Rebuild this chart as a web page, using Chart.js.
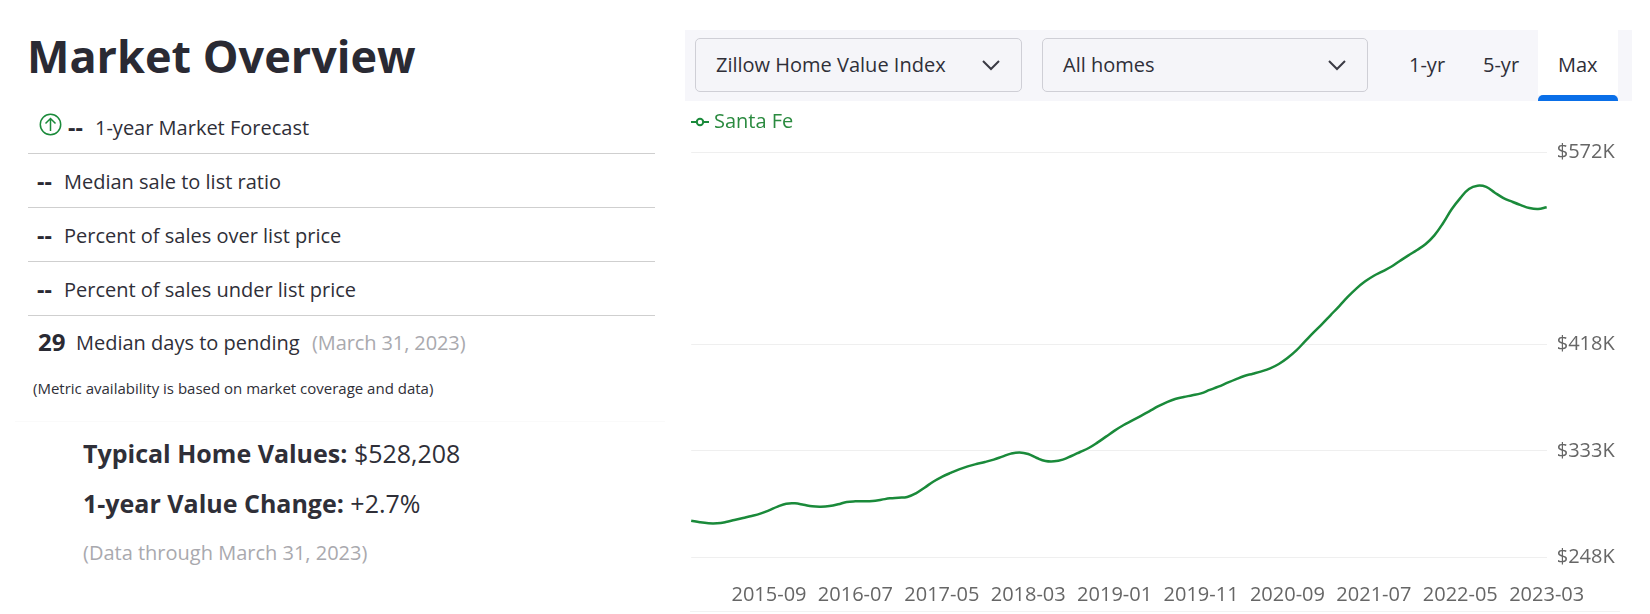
<!DOCTYPE html>
<html>
<head>
<meta charset="utf-8">
<title>Market Overview</title>
<script src="https://cdn.jsdelivr.net/npm/chart.js@4"></script>
<style>
  html, body { margin: 0; background: #fff; }
  body { width: 1650px; height: 614px; overflow: hidden; position: relative; font-family: "Open Sans", sans-serif; color: #2f2f38; }
  .abs { position: absolute; white-space: nowrap; line-height: 1; }
  .rule { position: absolute; left: 28px; width: 627px; height: 1px; background: #cfcfcf; }
  .dash { font-weight: 700; color: #2a2a33; }
  .grey { color: #a9a9ae; }
  #toolbar { position: absolute; left: 685px; top: 30px; width: 947px; height: 71px; background: #f6f6fa; }
  .select { position: absolute; top: 38px; height: 54px; box-sizing: border-box; background: #f5f5f9; border: 1px solid #cfcfd6; border-radius: 5px; }
  #maxTab { position: absolute; left: 1538px; top: 30px; width: 80px; height: 65px; background: #fff; }
  #maxBar { position: absolute; left: 1538px; top: 95px; width: 80px; height: 6px; background: #0a6fe8; border-radius: 5px 5px 0 0; }
  #chartBox { position: absolute; left: 680px; top: 100px; width: 950px; height: 514px; }
</style>
</head>
<body>
<div class="abs" style="left:27px;top:31px;font-size:45px;font-weight:700;line-height:50px;color:#2a2a33">Market Overview</div>

<svg class="abs" style="left:39px;top:113px" width="23" height="23" viewBox="0 0 23 23" fill="none" stroke="#1a8a3a" stroke-width="1.5">
  <circle cx="11.5" cy="11.5" r="10.2"/><path d="M11.5 18V5.5M6.5 10.5l5-5 5 5"/>
</svg>
<div class="abs dash" style="left:68px;top:116px;font-size:23px">--</div>
<div class="abs" style="left:95px;top:118px;font-size:20px">1-year Market Forecast</div>
<div class="rule" style="top:153px"></div>

<div class="abs dash" style="left:37px;top:170px;font-size:23px">--</div>
<div class="abs" style="left:64px;top:172px;font-size:20px">Median sale to list ratio</div>
<div class="rule" style="top:207px"></div>

<div class="abs dash" style="left:37px;top:224px;font-size:23px">--</div>
<div class="abs" style="left:64px;top:226px;font-size:20px">Percent of sales over list price</div>
<div class="rule" style="top:261px"></div>

<div class="abs dash" style="left:37px;top:278px;font-size:23px">--</div>
<div class="abs" style="left:64px;top:280px;font-size:20px">Percent of sales under list price</div>
<div class="rule" style="top:315px"></div>

<div class="abs dash" style="left:38px;top:330px;font-size:24px">29</div>
<div class="abs" style="left:76px;top:333px;font-size:20px">Median days to pending</div>
<div class="abs grey" style="left:312px;top:333px;font-size:20px;letter-spacing:-0.1px">(March 31, 2023)</div>
<div class="abs" style="left:33px;top:381px;font-size:15px">(Metric availability is based on market coverage and data)</div>
<div style="position:absolute;left:15px;top:421px;width:650px;height:1px;background:#fafafa"></div>

<div class="abs" style="left:83px;top:441px;font-size:25px"><b>Typical Home Values:</b> $528,208</div>
<div class="abs" style="left:83px;top:491px;font-size:25px"><b>1-year Value Change:</b> +2.7%</div>
<div class="abs grey" style="left:83px;top:543px;font-size:20px">(Data through March 31, 2023)</div>

<div id="toolbar"></div>
<div class="select" style="left:695px;width:327px"></div>
<div class="select" style="left:1042px;width:326px"></div>
<div class="abs" style="left:716px;top:55px;font-size:20px">Zillow Home Value Index</div>
<div class="abs" style="left:1063px;top:55px;font-size:20px">All homes</div>
<svg class="abs" style="left:981px;top:59px" width="20" height="12" fill="none" stroke="#3a3a44" stroke-width="2"><path d="M2 2l8 8 8-8"/></svg>
<svg class="abs" style="left:1327px;top:59px" width="20" height="12" fill="none" stroke="#3a3a44" stroke-width="2"><path d="M2 2l8 8 8-8"/></svg>
<div id="maxTab"></div>
<div id="maxBar"></div>
<div class="abs" style="left:1409px;top:55px;font-size:20px">1-yr</div>
<div class="abs" style="left:1483px;top:55px;font-size:20px">5-yr</div>
<div class="abs" style="left:1558px;top:55px;font-size:20px">Max</div>

<div id="chartBox"><canvas id="homeValues" width="950" height="514"></canvas></div>
<svg class="abs" style="left:691px;top:116px" width="18" height="12" fill="none" stroke="#1a8a3a" stroke-width="2">
  <path d="M0 6h5M13 6h5"/><circle cx="9" cy="6" r="3.2"/>
</svg>
<div class="abs" id="legendText" style="left:714px;top:111px;font-size:20px;color:#2a8a3f"></div>

<div style="position:absolute;left:690px;top:611px;width:930px;height:1px;background:#f2f2f2"></div>

<script>
const seriesName = "Santa Fe";
const lineColor = "#1a8a3a";

const months = [
  "2014-12",
  "2015-01", "2015-02", "2015-03", "2015-04", "2015-05", "2015-06", "2015-07", "2015-08", "2015-09", "2015-10", "2015-11", "2015-12",
  "2016-01", "2016-02", "2016-03", "2016-04", "2016-05", "2016-06", "2016-07", "2016-08", "2016-09", "2016-10", "2016-11", "2016-12",
  "2017-01", "2017-02", "2017-03", "2017-04", "2017-05", "2017-06", "2017-07", "2017-08", "2017-09", "2017-10", "2017-11", "2017-12",
  "2018-01", "2018-02", "2018-03", "2018-04", "2018-05", "2018-06", "2018-07", "2018-08", "2018-09", "2018-10", "2018-11", "2018-12",
  "2019-01", "2019-02", "2019-03", "2019-04", "2019-05", "2019-06", "2019-07", "2019-08", "2019-09", "2019-10", "2019-11", "2019-12",
  "2020-01", "2020-02", "2020-03", "2020-04", "2020-05", "2020-06", "2020-07", "2020-08", "2020-09", "2020-10", "2020-11", "2020-12",
  "2021-01", "2021-02", "2021-03", "2021-04", "2021-05", "2021-06", "2021-07", "2021-08", "2021-09", "2021-10", "2021-11", "2021-12",
  "2022-01", "2022-02", "2022-03", "2022-04", "2022-05", "2022-06", "2022-07", "2022-08", "2022-09", "2022-10", "2022-11", "2022-12",
  "2023-01", "2023-02", "2023-03"
];

// thousands of dollars
const homeValues = [
  277.1,
  275.8, 275.0, 275.0, 276.0, 277.6, 279.2, 280.8, 282.7, 285.4, 288.3, 290.7, 291.0,
  289.9, 288.6, 288.3, 288.8, 290.2, 292.1, 292.6, 292.6, 292.9, 293.9, 295.0, 295.5,
  296.1, 299.0, 303.5, 308.3, 312.1, 315.3, 318.2, 320.6, 322.5, 324.1, 326.0, 328.4,
  330.8, 331.8, 330.5, 327.3, 324.9, 324.6, 326.0, 328.9, 332.1, 335.3, 339.6, 344.4,
  349.2, 353.5, 357.2, 360.9, 364.7, 368.6, 371.9, 374.6, 376.2, 377.5, 379.1, 381.8,
  384.4, 387.4, 390.3, 393.0, 394.8, 396.7, 399.1, 402.6, 407.4, 413.3, 420.5, 427.7,
  434.6, 441.8, 449.0, 456.5, 463.2, 468.8, 473.3, 476.8, 480.5, 485.1, 489.6, 493.9,
  498.7, 505.6, 515.3, 526.5, 535.5, 542.8, 545.4, 544.4, 539.8, 535.5, 532.6, 529.9,
  527.5, 526.7, 528.2
];

const xTickLabels = ["2015-09", "2016-07", "2017-05", "2018-03", "2019-01", "2019-11", "2020-09", "2021-07", "2022-05", "2023-03"];
const yTickValues = [248, 333, 418, 572];

document.getElementById("legendText").textContent = seriesName;

new Chart(document.getElementById("homeValues").getContext("2d"), {
  type: "line",
  data: {
    labels: months,
    datasets: [{
      label: seriesName,
      data: homeValues,
      borderColor: lineColor,
      borderWidth: 2.5,
      pointRadius: 0,
      tension: 0.4
    }]
  },
  options: {
    responsive: false,
    animation: false,
    layout: { padding: { left: 11.2, top: 52.5 } },
    plugins: { legend: { display: false }, tooltip: { enabled: false } },
    scales: {
      x: {
        grid: { display: false },
        border: { display: false },
        ticks: {
          autoSkip: false,
          maxRotation: 0,
          padding: 18,
          color: "#666",
          font: { family: "Open Sans", size: 20 }
        },
        afterBuildTicks: axis => {
          axis.ticks = axis.ticks.filter(t => xTickLabels.includes(months[t.value]));
        },
        afterFit: axis => { axis.height = 57; }
      },
      y: {
        position: "right",
        min: 248,
        max: 572,
        grid: { color: "#efefef", drawTicks: false },
        border: { display: false },
        ticks: {
          padding: 10,
          color: "#666",
          font: { family: "Open Sans", size: 20 },
          callback: v => "$" + v + "K"
        },
        afterBuildTicks: axis => {
          axis.ticks = yTickValues.map(v => ({ value: v }));
        },
        afterFit: axis => { axis.width = 83.3; }
      }
    }
  }
});
</script>
</body>
</html>
